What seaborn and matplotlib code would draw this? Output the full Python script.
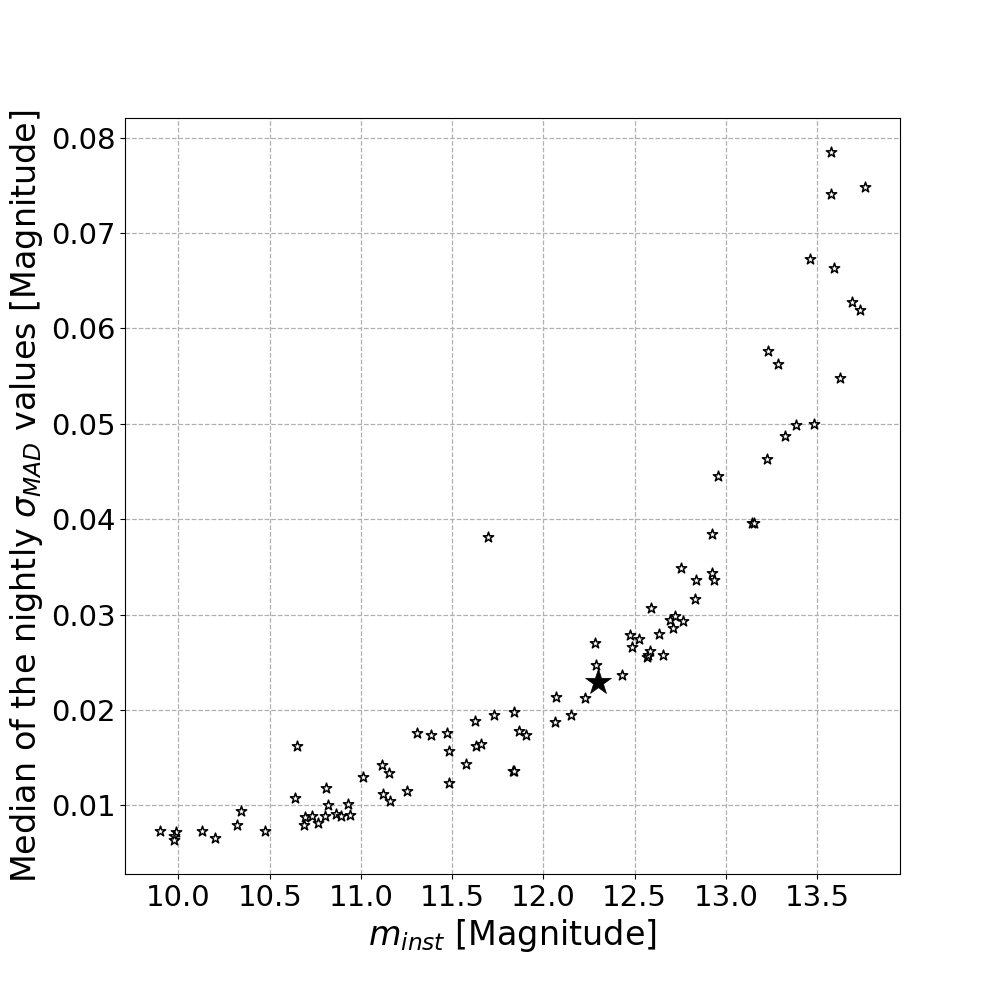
import numpy as np
import pandas as pd
import matplotlib
matplotlib.use("Agg")
import matplotlib.pyplot as plt
import seaborn as sns

# instrumental magnitude of each comparison star
m_inst = [
    9.900, 9.987, 9.973, 9.976, 10.128, 10.201, 10.320, 10.340, 10.476,
    10.652, 10.641, 10.809, 10.821, 10.694, 10.731, 10.690, 10.767, 10.805,
    10.862, 10.889, 10.928, 10.939, 11.011, 11.116, 11.156, 11.123, 11.161,
    11.254, 11.309, 11.386, 11.473, 11.484, 11.484, 11.577, 11.623, 11.632,
    11.659, 11.731, 11.831, 11.837, 11.840, 11.867, 11.906, 12.065, 12.070,
    12.152, 12.229, 11.698, 12.284, 12.288, 12.432, 12.474, 12.521, 12.483,
    12.590, 12.634, 12.569, 12.574, 12.583, 12.653, 12.693, 12.722, 12.711,
    12.766, 12.755, 12.831, 12.835, 12.924, 12.935, 12.924, 12.956, 13.143,
    13.152, 13.226, 13.324, 13.384, 13.483, 13.576, 13.576, 13.761, 13.459,
    13.591, 13.690, 13.735, 13.231, 13.286, 13.625,
]
# median of the nightly sigma_MAD values
sigma_mad = [
    0.00727, 0.00720, 0.00678, 0.00642, 0.00727, 0.00657, 0.00796, 0.00939, 0.00730,
    0.01620, 0.01078, 0.01183, 0.01002, 0.00883, 0.00889, 0.00796, 0.00817, 0.00889,
    0.00914, 0.00889, 0.01013, 0.00900, 0.01298, 0.01424, 0.01337, 0.01117, 0.01044,
    0.01148, 0.01758, 0.01737, 0.01758, 0.01567, 0.01232, 0.01431, 0.01884, 0.01619,
    0.01640, 0.01947, 0.01364, 0.01358, 0.01978, 0.01776, 0.01737, 0.01870, 0.02132,
    0.01947, 0.02121, 0.03816, 0.02707, 0.02470, 0.02362, 0.02783, 0.02742, 0.02665,
    0.03066, 0.02794, 0.02557, 0.02574, 0.02620, 0.02574, 0.02940, 0.02985, 0.02857,
    0.02930, 0.03492, 0.03167, 0.03359, 0.03432, 0.03366, 0.03850, 0.04454, 0.03955,
    0.03955, 0.04632, 0.04872, 0.04987, 0.04998, 0.07846, 0.07407, 0.07477, 0.06724,
    0.06633, 0.06274, 0.06193, 0.05762, 0.05626, 0.05482,
]
# target star
target_m = [12.300]
target_sigma = [0.02289]

df = pd.DataFrame({"m_inst": m_inst, "sigma": sigma_mad})
target = pd.DataFrame({"m_inst": target_m, "sigma": target_sigma})

fig, ax = plt.subplots(figsize=(10, 9.82), dpi=100)
ax.set_axisbelow(True)
ax.grid(True, linestyle="--", color="#b0b0b0", linewidth=0.9)

sns.scatterplot(data=df, x="m_inst", y="sigma", marker="*", s=60,
                facecolor="white", edgecolor="black", linewidth=1.1, ax=ax)
sns.scatterplot(data=target, x="m_inst", y="sigma", marker="*", s=380,
                color="black", edgecolor="black", linewidth=0.5, ax=ax)

ax.set_xlabel(r"$m_{inst}$ [Magnitude]", fontsize=24)
ax.set_ylabel(r"Median of the nightly $\sigma_{MAD}$ values [Magnitude]", fontsize=24)
ax.tick_params(labelsize=21)
ax.set_yticks([0.01, 0.02, 0.03, 0.04, 0.05, 0.06, 0.07, 0.08])
ax.set_xticks([10.0, 10.5, 11.0, 11.5, 12.0, 12.5, 13.0, 13.5])
ax.margins(0.05)

fig.savefig("out.png", dpi=100)
